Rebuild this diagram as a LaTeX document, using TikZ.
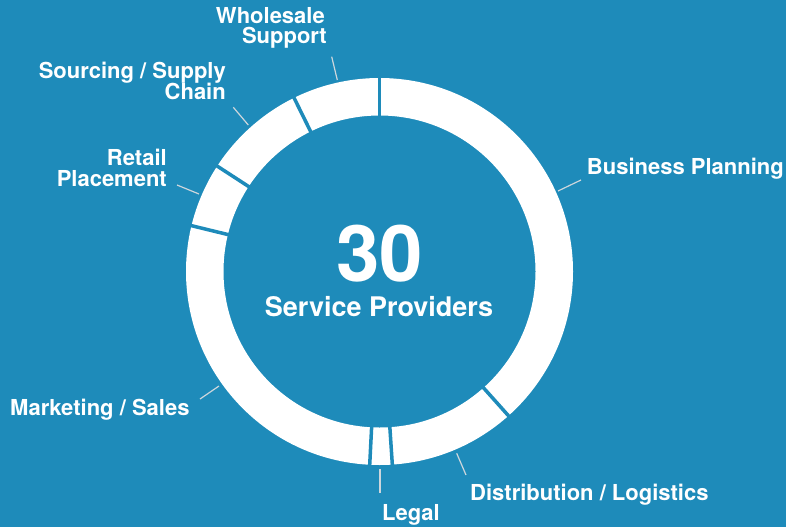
\documentclass[tikz,border=0pt]{standalone}
\usepackage{fontspec}
\setmainfont{TeX Gyre Heros}
\usetikzlibrary{calc}
\definecolor{bgblue}{RGB}{30,139,186}
\definecolor{leadergray}{RGB}{205,214,220}
\begin{document}
\begin{tikzpicture}[x=1pt,y=-1pt,
  lbl/.style={font=\fontsize{22}{26}\selectfont\bfseries, text=white, inner sep=0pt},
  leaderline/.style={draw=leadergray, line width=1.2pt},
  divider/.style={draw=bgblue, line width=3.5pt}]
\fill[bgblue] (0,0) rectangle (786,527);
\useasboundingbox (0,0) rectangle (786,527);
\coordinate (c) at (379.5,271.5);
% ring
\fill[white, even odd rule] (c) circle[radius=193.5pt] (c) circle[radius=156pt];
\foreach \a in {0,138.2,176.2,182.9,283.7,303,333.8} {
  \draw[divider] ($(c)+({150*sin(\a)},{-150*cos(\a)})$) -- ($(c)+({200*sin(\a)},{-200*cos(\a)})$);
}
% centre text
\node[font=\fontsize{78}{80}\selectfont\bfseries, text=white, inner sep=0pt, anchor=base] (num) at (379.5,281) {30};
\node[font=\fontsize{27}{30}\selectfont\bfseries, text=white, inner sep=0pt, anchor=base] (sp) at (379,316) {Service Providers};
% labels
\node[lbl, anchor=base east] (ws1) at (325,23.5) {Wholesale};
\node[lbl, anchor=base east] (ws2) at (327,44) {Support};
\node[lbl, anchor=base east] (so1) at (226,78.3) {Sourcing / Supply};
\node[lbl, anchor=base east] (so2) at (226,99.5) {Chain};
\node[lbl, anchor=base east] (re1) at (167,165) {Retail};
\node[lbl, anchor=base east] (re2) at (167,186) {Placement};
\node[lbl, anchor=base east] (bp) at (784,174) {Business Planning};
\node[lbl, anchor=base west] (mk) at (10,415) {Marketing / Sales};
\node[lbl, anchor=base west] (di) at (470,500) {Distribution / Logistics};
\node[lbl, anchor=base west] (lg) at (382,520) {Legal};
% leader lines
\coordinate (wsa) at (331.7,56.7); \coordinate (wsb) at (337.3,80);
\coordinate (soa) at (233.3,107.3); \coordinate (sob) at (248.3,125);
\coordinate (rea) at (177,185); \coordinate (reb) at (199,194);
\coordinate (bpa) at (581,180); \coordinate (bpb) at (558,191);
\coordinate (mka) at (200,399); \coordinate (mkb) at (219,386);
\coordinate (lga) at (380,492.7); \coordinate (lgb) at (380,469);
\coordinate (dia) at (466,475); \coordinate (dib) at (456.7,453.3);
\draw[leaderline] (wsa) -- (wsb);
\draw[leaderline] (soa) -- (sob);
\draw[leaderline] (rea) -- (reb);
\draw[leaderline] (bpa) -- (bpb);
\draw[leaderline] (mka) -- (mkb);
\draw[leaderline] (lga) -- (lgb);
\draw[leaderline] (dia) -- (dib);
\end{tikzpicture}
\end{document}
